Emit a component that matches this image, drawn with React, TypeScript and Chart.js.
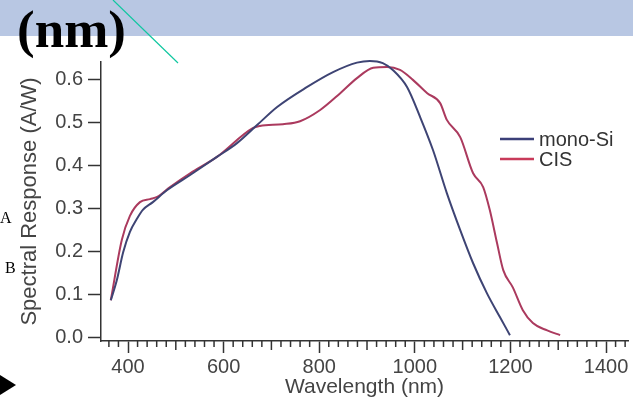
import React, { useEffect, useRef } from "react";
import { Chart, registerables } from "chart.js";

Chart.register(...registerables);

// ---- data ----
const monoWl = [364, 376, 390, 404, 418, 431, 452, 482, 530, 586, 628, 670, 712, 774, 829, 879, 906, 933, 954, 984, 1011, 1038, 1067, 1095, 1122, 1151, 1178, 1199];
const monoSR = [0.086, 0.13, 0.198, 0.245, 0.274, 0.296, 0.314, 0.342, 0.377, 0.419, 0.451, 0.493, 0.535, 0.581, 0.616, 0.638, 0.642, 0.637, 0.621, 0.581, 0.512, 0.435, 0.335, 0.249, 0.172, 0.102, 0.047, 0.005];

const cisWl = [364, 387, 404, 425, 446, 461, 488, 530, 586, 661, 676, 724, 760, 802, 844, 879, 913, 942, 969, 996, 1026, 1053, 1067, 1095, 1122, 1143, 1157, 1172, 1185, 1205, 1226, 1247, 1277, 1304];
const cisSR = [0.086, 0.226, 0.282, 0.314, 0.321, 0.326, 0.349, 0.381, 0.419, 0.486, 0.491, 0.495, 0.502, 0.528, 0.567, 0.602, 0.626, 0.628, 0.621, 0.598, 0.567, 0.544, 0.505, 0.465, 0.381, 0.349, 0.295, 0.219, 0.156, 0.116, 0.063, 0.033, 0.016, 0.005];

const seriesNames = ["mono-Si", "CIS"];
const seriesColors = ["#3e4474", "#ab3a5e"];
const legendColors = ["#3b3f78", "#c83a5a"];

const xTickValues = [400, 600, 800, 1000, 1200, 1400];
const yTickValues = [0.0, 0.1, 0.2, 0.3, 0.4, 0.5, 0.6];
const xMinorStep = 20;

const xTitle = "Wavelength (nm)";
const yTitle = "Spectral Response (A/W)";

const FONT = "'Liberation Sans', Arial, Helvetica, sans-serif";
const SERIF = "'Liberation Serif', 'Times New Roman', serif";

export default function App() {
  const ref = useRef<HTMLCanvasElement | null>(null);

  useEffect(() => {
    const canvas = ref.current;
    if (!canvas) return;

    const minorTicks = {
      id: "minorTicks",
      afterDraw(chart: any) {
        const xs = chart.scales.x;
        const ctx = chart.ctx;
        ctx.save();
        ctx.strokeStyle = "#333";
        ctx.lineWidth = 1.5;
        for (let v = 360; v <= 1440; v += xMinorStep) {
          if (v % 200 === 0) continue;
          const len = v % 100 === 0 ? 9 : 6;
          const px = xs.getPixelForValue(v);
          ctx.beginPath();
          ctx.moveTo(px, xs.top);
          ctx.lineTo(px, xs.top + len);
          ctx.stroke();
        }
        ctx.restore();
      },
    };

    const innerLegend = {
      id: "innerLegend",
      afterDraw(chart: any) {
        const ctx = chart.ctx;
        ctx.save();
        chart.data.datasets.forEach((ds: any, i: number) => {
          const y = 139 + i * 20;
          ctx.strokeStyle = legendColors[i];
          ctx.lineWidth = 2.5;
          ctx.beginPath();
          ctx.moveTo(500, y);
          ctx.lineTo(534, y);
          ctx.stroke();
          ctx.fillStyle = "#333";
          ctx.font = `20px ${FONT}`;
          ctx.textBaseline = "middle";
          ctx.textAlign = "left";
          ctx.fillText(ds.label, 539, y + 1);
        });
        ctx.restore();
      },
    };

    const chart = new Chart(canvas, {
      type: "line",
      data: {
        datasets: [
          {
            label: seriesNames[0],
            data: monoWl.map((x, i) => ({ x, y: monoSR[i] })),
            borderColor: seriesColors[0],
            borderWidth: 2,
            pointRadius: 0,
            cubicInterpolationMode: "monotone",
            clip: false as any,
          },
          {
            label: seriesNames[1],
            data: cisWl.map((x, i) => ({ x, y: cisSR[i] })),
            borderColor: seriesColors[1],
            borderWidth: 2,
            pointRadius: 0,
            cubicInterpolationMode: "monotone",
            clip: false as any,
          },
        ],
      },
      options: {
        responsive: false,
        animation: false,
        layout: { padding: { left: 0, right: 5, top: 62, bottom: 0 } },
        plugins: { legend: { display: false }, tooltip: { enabled: false } },
        scales: {
          x: {
            type: "linear",
            min: 343.5,
            max: 1446,
            afterFit(scale: any) {
              scale.height = 61;
            },
            afterBuildTicks(scale: any) {
              scale.ticks = xTickValues.map((v) => ({ value: v }));
            },
            border: { display: true, color: "#333", width: 1.5 },
            grid: { drawOnChartArea: false, drawTicks: true, tickLength: 12, tickColor: "#333", tickWidth: 1.5 },
            ticks: {
              color: "#444",
              font: { family: FONT, size: 20 },
              padding: 2,
              maxRotation: 0,
              autoSkip: false,
              callback: (v: any) => String(v),
            },
            title: { display: true, text: xTitle, color: "#444", font: { family: FONT, size: 21 }, padding: { top: 0, bottom: 2 } },
          },
          y: {
            type: "linear",
            min: -0.0086,
            max: 0.6395,
            afterFit(scale: any) {
              scale.width = 101;
            },
            afterBuildTicks(scale: any) {
              scale.ticks = yTickValues.map((v) => ({ value: v }));
            },
            border: { display: true, color: "#333", width: 1.5 },
            grid: { drawOnChartArea: false, drawTicks: true, tickLength: 13, tickColor: "#333", tickWidth: 1.5 },
            ticks: {
              color: "#444",
              font: { family: FONT, size: 20 },
              padding: 5,
              autoSkip: false,
              callback: (v: any) => Number(v).toFixed(1),
            },
            title: { display: true, text: yTitle, color: "#444", font: { family: FONT, size: 22 }, padding: { top: 17, bottom: 0 } },
          },
        },
      },
      plugins: [minorTicks, innerLegend],
    });

    return () => chart.destroy();
  }, []);

  return (
    <div style={{ position: "absolute", left: 0, top: 0, width: 633, height: 402, background: "#fff", overflow: "hidden" }}>
      <div style={{ position: "absolute", left: 0, top: 0, width: 633, height: 36, background: "#b8c7e3" }} />
      <canvas ref={ref} width={633} height={402} style={{ position: "absolute", left: 0, top: 0 }} />
      <div style={{ position: "absolute", left: 17, top: -1, fontFamily: SERIF, fontWeight: "bold", fontSize: 53, color: "#000", lineHeight: "normal" }}>
        (nm)
      </div>
      <svg width={633} height={402} style={{ position: "absolute", left: 0, top: 0, pointerEvents: "none" }}>
        <line x1={113} y1={0} x2={178} y2={63} stroke="#10c7a0" strokeWidth={1.2} />
        <polygon points="0,375 16,385 0,395" fill="#000" />
      </svg>
      <div style={{ position: "absolute", left: 0, top: 209, fontFamily: SERIF, fontSize: 16, color: "#000", lineHeight: "normal" }}>A</div>
      <div style={{ position: "absolute", left: 5, top: 259, fontFamily: SERIF, fontSize: 16, color: "#000", lineHeight: "normal" }}>B</div>
    </div>
  );
}
